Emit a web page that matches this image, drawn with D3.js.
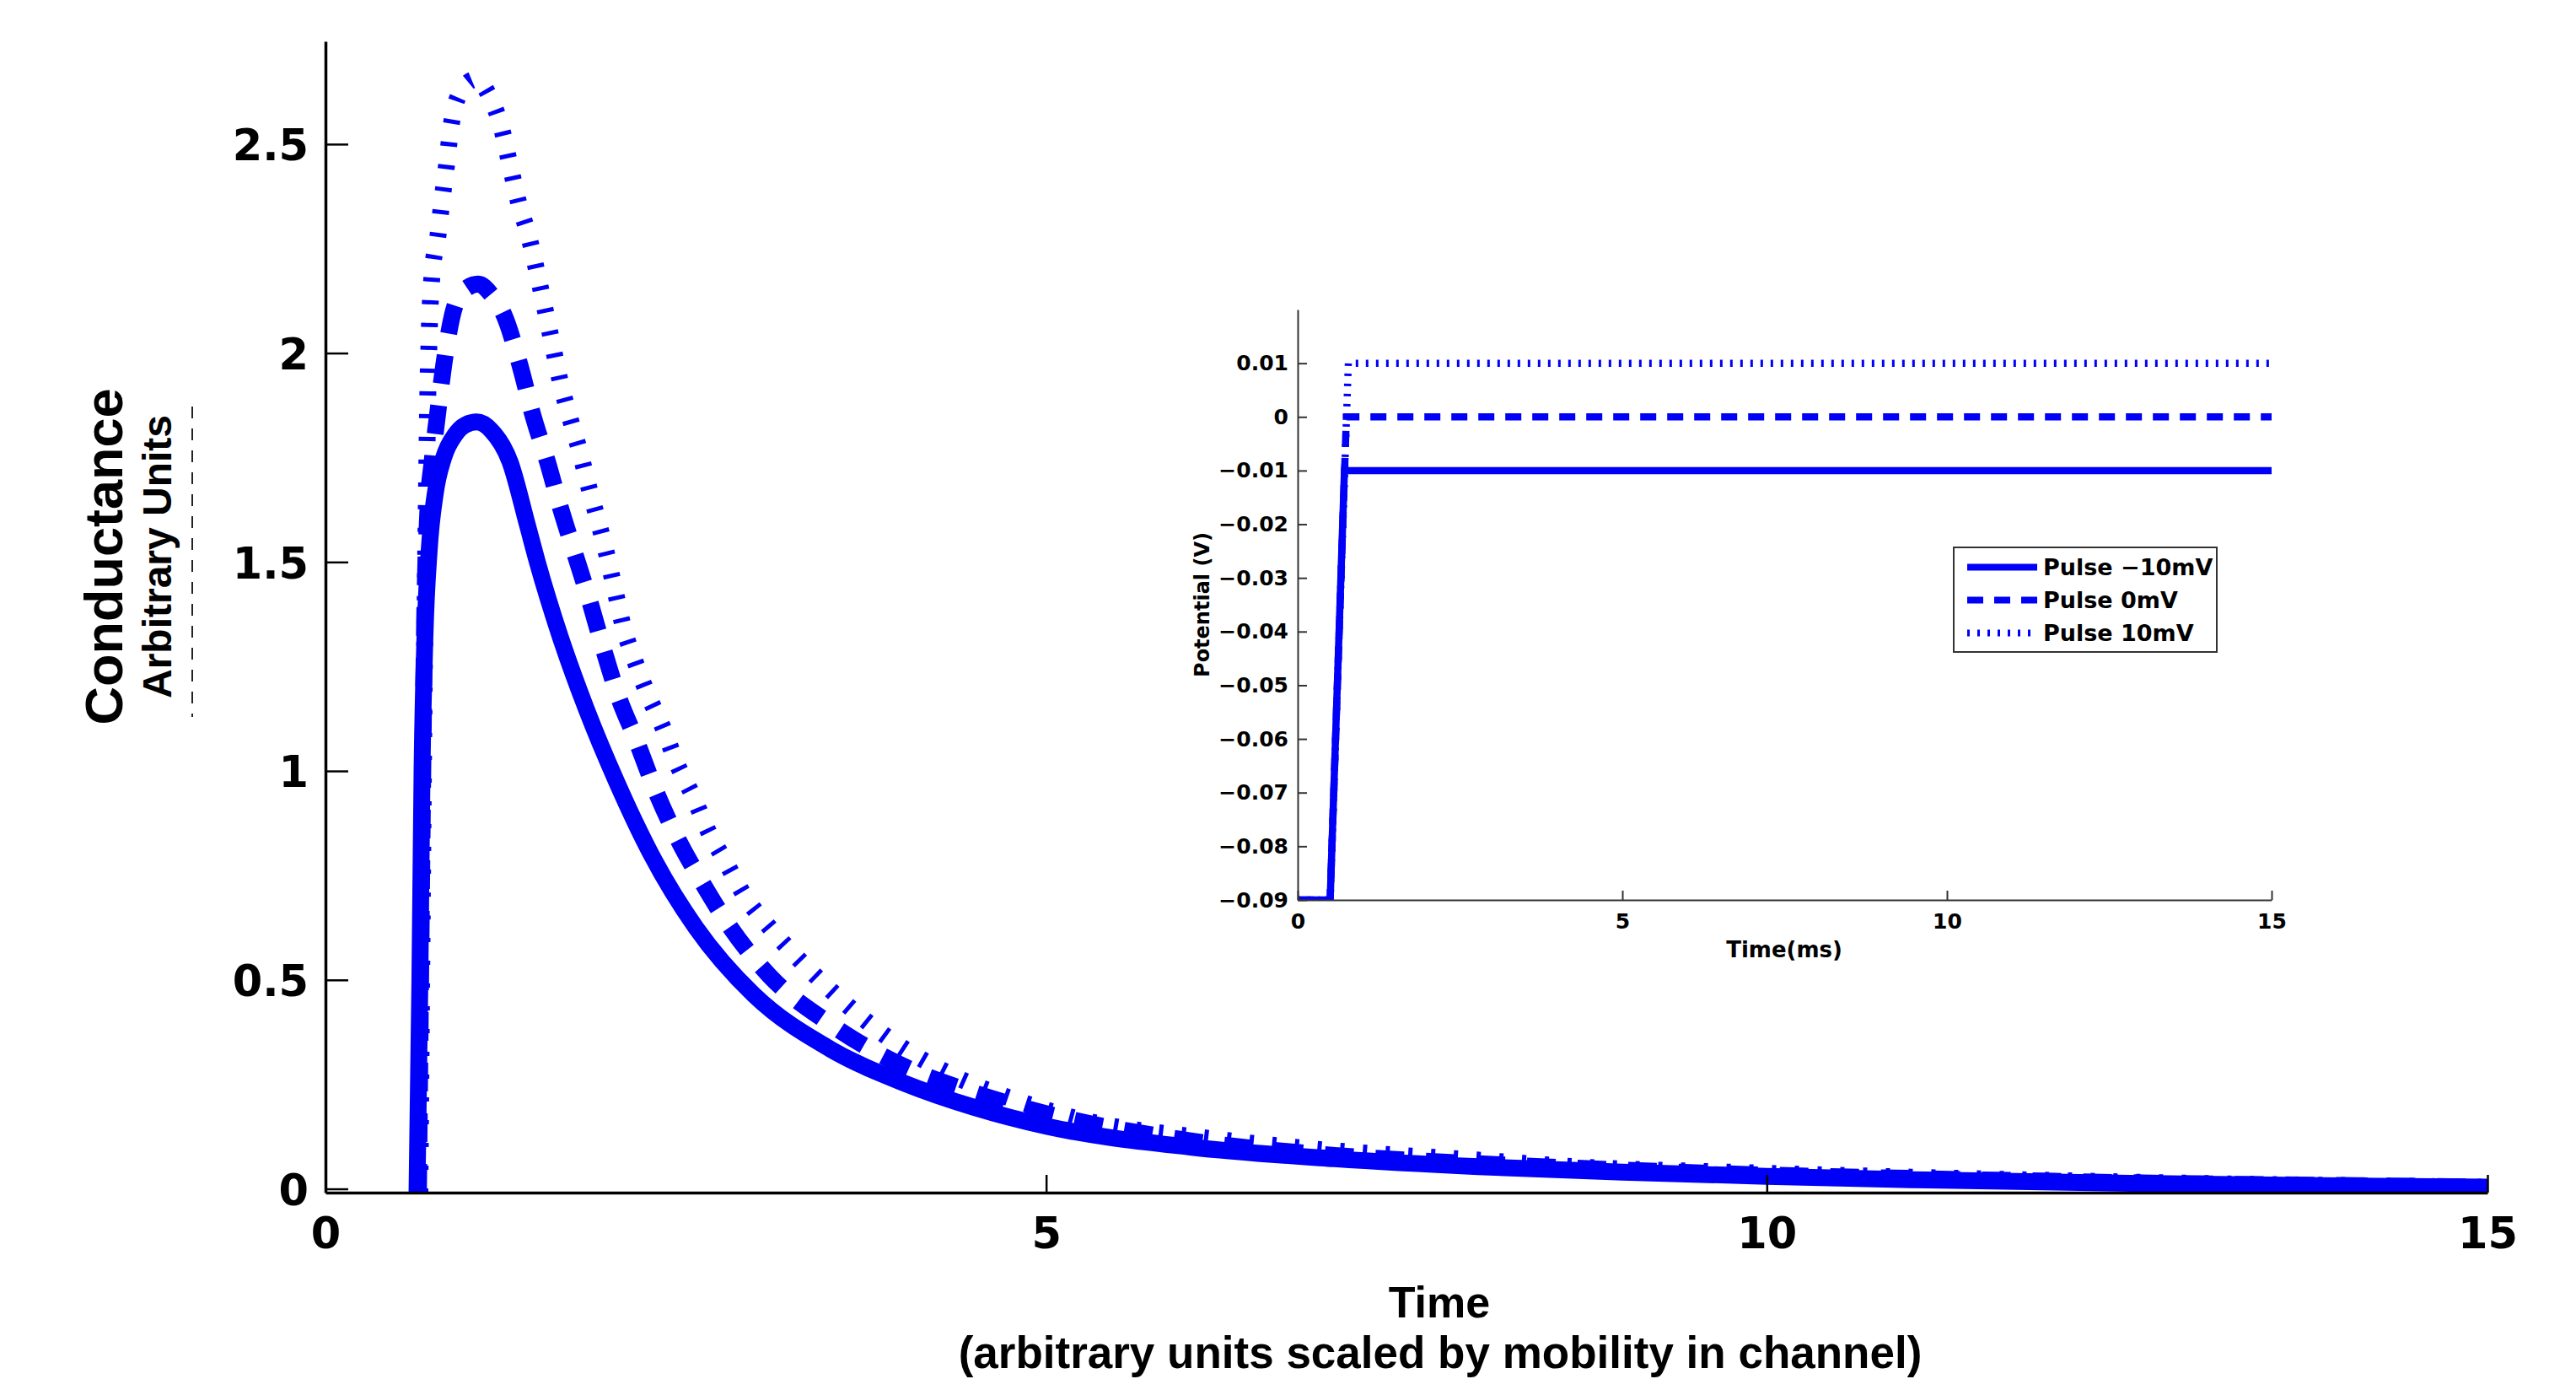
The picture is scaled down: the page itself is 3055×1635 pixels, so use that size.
<!DOCTYPE html>
<html>
<head>
<meta charset="utf-8">
<script src="https://cdn.jsdelivr.net/npm/d3@7"></script>
<style>
body { margin: 0; background: #fff; }
</style>
</head>
<body>
<div class="chart"></div>
<script>
// main plot: conductance vs time, one series per pulse
const ticksX = [0, 5, 10, 15];
const ticksY = [0, 0.5, 1, 1.5, 2, 2.5];
const tickLabelsY = ["0", "0.5", "1", "1.5", "2", "2.5"];

const solidT = [0.635, 0.655, 0.67, 0.69, 0.72, 0.76, 0.82, 0.90, 0.97, 1.05, 1.15, 1.28, 1.40, 1.47, 1.63, 1.81, 2.02, 2.26, 2.57, 2.97, 3.5, 4.0, 4.5, 5.0, 6.0, 7.0, 8.0, 9.0, 10, 11, 12, 13, 14, 15];
const solidG = [-0.009, 0.5, 1.0, 1.32, 1.53, 1.66, 1.75, 1.805, 1.828, 1.835, 1.815, 1.74, 1.59, 1.50, 1.32, 1.148, 0.974, 0.80, 0.625, 0.465, 0.335, 0.255, 0.195, 0.15, 0.10, 0.072, 0.053, 0.04, 0.03, 0.022, 0.016, 0.011, 0.007, 0.004];

const dashT = [0.645, 0.66, 0.675, 0.69, 0.71, 0.74, 0.78, 0.82, 0.88, 0.96, 1.06, 1.15, 1.24, 1.35, 1.44, 1.54, 1.63, 1.73, 1.83, 1.93, 2.03, 2.16, 2.27, 2.44, 2.61, 2.81, 3.08, 3.5, 4.0, 4.5, 5.0, 6.0, 7.0, 8.0, 9.0, 10, 11, 12, 13, 14, 15];
const dashG = [-0.009, 0.5, 1.0, 1.4, 1.62, 1.74, 1.86, 1.97, 2.09, 2.15, 2.165, 2.14, 2.09, 1.97, 1.85, 1.74, 1.63, 1.52, 1.41, 1.29, 1.18, 1.07, 0.97, 0.84, 0.735, 0.625, 0.51, 0.395, 0.295, 0.23, 0.18, 0.115, 0.08, 0.06, 0.045, 0.033, 0.025, 0.018, 0.012, 0.008, 0.004];

const dotT = [0.655, 0.67, 0.685, 0.70, 0.71, 0.72, 0.74, 0.78, 0.81, 0.84, 0.87, 0.93, 1.04, 1.13, 1.22, 1.28, 1.34, 1.41, 1.47, 1.52, 1.575, 1.63, 1.70, 1.76, 1.83, 1.89, 1.95, 2.01, 2.07, 2.15, 2.24, 2.34, 2.44, 2.55, 2.65, 2.78, 2.91, 3.07, 3.2, 3.46, 3.91, 4.36, 4.81, 5.25, 6.15, 7.04, 7.94, 8.83, 9.73, 11, 12, 13, 14, 15];
const dotG = [-0.009, 0.6, 1.2, 1.65, 1.9, 2.05, 2.19, 2.28, 2.37, 2.45, 2.54, 2.62, 2.655, 2.62, 2.54, 2.45, 2.36, 2.28, 2.19, 2.11, 2.02, 1.93, 1.84, 1.77, 1.675, 1.60, 1.52, 1.43, 1.34, 1.26, 1.18, 1.105, 1.016, 0.94, 0.86, 0.78, 0.70, 0.63, 0.58, 0.49, 0.36, 0.27, 0.21, 0.165, 0.12, 0.09, 0.07, 0.05, 0.04, 0.028, 0.02, 0.013, 0.008, 0.004];

// inset: applied potential vs time
const insetTicksX = [0, 5, 10, 15];
const insetTicksY = [-0.09, -0.08, -0.07, -0.06, -0.05, -0.04, -0.03, -0.02, -0.01, 0, 0.01];
const insetTickLabelsY = ["\u22120.09", "\u22120.08", "\u22120.07", "\u22120.06", "\u22120.05", "\u22120.04", "\u22120.03", "\u22120.02", "\u22120.01", "0", "0.01"];
const pulseNames = ["Pulse \u221210mV", "Pulse 0mV", "Pulse 10mV"];
const insetSolidT = [0, 0.50, 0.72, 15];
const insetSolidV = [-0.09, -0.09, -0.01, -0.01];
const insetDashT = [0, 0.50, 0.75, 15];
const insetDashV = [-0.09, -0.09, 0, 0];
const insetDotT = [0, 0.50, 0.78, 15];
const insetDotV = [-0.09, -0.09, 0.01, 0.01];

const blue = "#0000f8";
const tickFont = "'DejaVu Sans', sans-serif";
const labelFont = "'Liberation Sans', Arial, sans-serif";

let width = 3055, height = 1635;

let svg = d3.select(".chart").append("svg")
    .attr("width", width)
    .attr("height", height)
    .style("background", "#fff");

// ---------- main axes ----------
let x = d3.scaleLinear().domain([0, 15]).range([386, 2950]);
let y = d3.scaleLinear().domain([-0.009, 2.746]).range([1414, 49]);

svg.append("clipPath").attr("id", "mainclip")
    .append("rect")
    .attr("x", x.range()[0]).attr("y", y.range()[1])
    .attr("width", x.range()[1] - x.range()[0])
    .attr("height", y.range()[0] - y.range()[1]);

const zip = (a, b) => a.map((v, i) => [v, b[i]]);

let line = d3.line()
    .x(d => x(d[0]))
    .y(d => y(d[1]))
    .curve(d3.curveMonotoneX);

let series = [
    { data: zip(solidT, solidG), dash: null },
    { data: zip(dashT, dashG), dash: "34,26" },
    { data: zip(dotT, dotG), dash: "5,22" }
];

svg.append("g").attr("clip-path", "url(#mainclip)")
    .selectAll("path")
    .data(series)
    .join("path")
    .attr("d", d => line(d.data))
    .attr("fill", "none")
    .attr("stroke", blue)
    .attr("stroke-width", 20)
    .attr("stroke-linejoin", "round")
    .attr("stroke-dasharray", d => d.dash);

let xAxis = svg.append("g")
    .attr("transform", "translate(0," + y.range()[0] + ")")
    .call(d3.axisBottom(x).tickValues(ticksX).tickFormat(d3.format("d"))
        .tickSize(-21).tickSizeOuter(0).tickPadding(30));

let yAxis = svg.append("g")
    .attr("transform", "translate(" + x.range()[0] + ",0)")
    .call(d3.axisLeft(y).tickValues(ticksY).tickFormat((d, i) => tickLabelsY[i])
        .tickSize(-27).tickSizeOuter(0).tickPadding(20));

[xAxis, yAxis].forEach(ax => {
    ax.select(".domain").attr("stroke", "#000").attr("stroke-width", 3.5);
    ax.selectAll(".tick line").attr("stroke", "#000").attr("stroke-width", 2.5);
    ax.selectAll("text")
        .attr("fill", "#000")
        .style("font-family", tickFont)
        .style("font-weight", "bold")
        .style("font-size", "51px");
});
yAxis.selectAll("text").attr("dy", "0.37em");

svg.append("text")
    .attr("transform", "translate(145,660) rotate(-90)")
    .attr("text-anchor", "middle")
    .style("font-family", labelFont).style("font-weight", "bold").style("font-size", "63px")
    .text("Conductance");

svg.append("text")
    .attr("transform", "translate(203,660) rotate(-90)")
    .attr("text-anchor", "middle")
    .style("font-family", labelFont).style("font-weight", "bold").style("font-size", "48px")
    .text("Arbitrary Units");

svg.append("line")
    .attr("x1", 228).attr("x2", 228).attr("y1", 482).attr("y2", 850)
    .attr("stroke", "#222").attr("stroke-width", 2)
    .attr("stroke-dasharray", "14,12");

svg.append("text")
    .attr("x", 1707).attr("y", 1562)
    .attr("text-anchor", "middle")
    .style("font-family", labelFont).style("font-weight", "bold").style("font-size", "52px")
    .text("Time");

svg.append("text")
    .attr("x", 1708).attr("y", 1622)
    .attr("text-anchor", "middle")
    .style("font-family", labelFont).style("font-weight", "bold").style("font-size", "53px")
    .text("(arbitrary units scaled by mobility in channel)");

// ---------- inset ----------
let xi = d3.scaleLinear().domain([0, 15]).range([1539, 2694]);
let yi = d3.scaleLinear().domain([-0.09, 0.02]).range([1067, 367]);

svg.append("clipPath").attr("id", "insetclip")
    .append("rect")
    .attr("x", xi.range()[0]).attr("y", yi.range()[1])
    .attr("width", xi.range()[1] - xi.range()[0])
    .attr("height", yi.range()[0] - yi.range()[1]);

let insetLine = d3.line()
    .x(d => xi(d[0]))
    .y(d => yi(d[1]));

let insetSeries = [
    { data: zip(insetSolidT, insetSolidV), dash: null },
    { data: zip(insetDashT, insetDashV), dash: "19,13" },
    { data: zip(insetDotT, insetDotV), dash: "3,9" }
];

svg.append("g").attr("clip-path", "url(#insetclip)")
    .selectAll("path")
    .data(insetSeries)
    .join("path")
    .attr("d", d => insetLine(d.data))
    .attr("fill", "none")
    .attr("stroke", blue)
    .attr("stroke-width", 8.5)
    .attr("stroke-dasharray", d => d.dash);

let xiAxis = svg.append("g")
    .attr("transform", "translate(0," + yi.range()[0] + ")")
    .call(d3.axisBottom(xi).tickValues(insetTicksX).tickFormat(d3.format("d"))
        .tickSize(-11).tickSizeOuter(0).tickPadding(16));

let yiAxis = svg.append("g")
    .attr("transform", "translate(" + xi.range()[0] + ",0)")
    .call(d3.axisLeft(yi).tickValues(insetTicksY).tickFormat((d, i) => insetTickLabelsY[i])
        .tickSize(-11).tickSizeOuter(0).tickPadding(11));

[xiAxis, yiAxis].forEach(ax => {
    ax.select(".domain").attr("stroke", "#333").attr("stroke-width", 2);
    ax.selectAll(".tick line").attr("stroke", "#333").attr("stroke-width", 2);
    ax.selectAll("text")
        .attr("fill", "#000")
        .style("font-family", tickFont)
        .style("font-weight", "bold")
        .style("font-size", "25px");
});

svg.append("text")
    .attr("x", 2116).attr("y", 1135)
    .attr("text-anchor", "middle")
    .style("font-family", tickFont).style("font-weight", "bold").style("font-size", "26px")
    .text("Time(ms)");

svg.append("text")
    .attr("transform", "translate(1434,717) rotate(-90)")
    .attr("text-anchor", "middle")
    .style("font-family", tickFont).style("font-weight", "bold").style("font-size", "24px")
    .text("Potential (V)");

// legend
let legend = svg.append("g").attr("transform", "translate(2317,649)");
legend.append("rect")
    .attr("width", 312).attr("height", 124)
    .attr("fill", "#fff").attr("stroke", "#333").attr("stroke-width", 2);

let items = legend.selectAll(".item")
    .data(insetSeries)
    .join("g")
    .attr("class", "item")
    .attr("transform", (d, i) => "translate(0," + (23.5 + i * 39) + ")");

items.append("line")
    .attr("x1", 16).attr("x2", 99)
    .attr("stroke", blue).attr("stroke-width", 8)
    .attr("stroke-dasharray", d => d.dash);

items.append("text")
    .attr("x", 106).attr("dy", "0.36em")
    .style("font-family", tickFont).style("font-weight", "bold").style("font-size", "27px")
    .text((d, i) => pulseNames[i]);
</script>
</body>
</html>
